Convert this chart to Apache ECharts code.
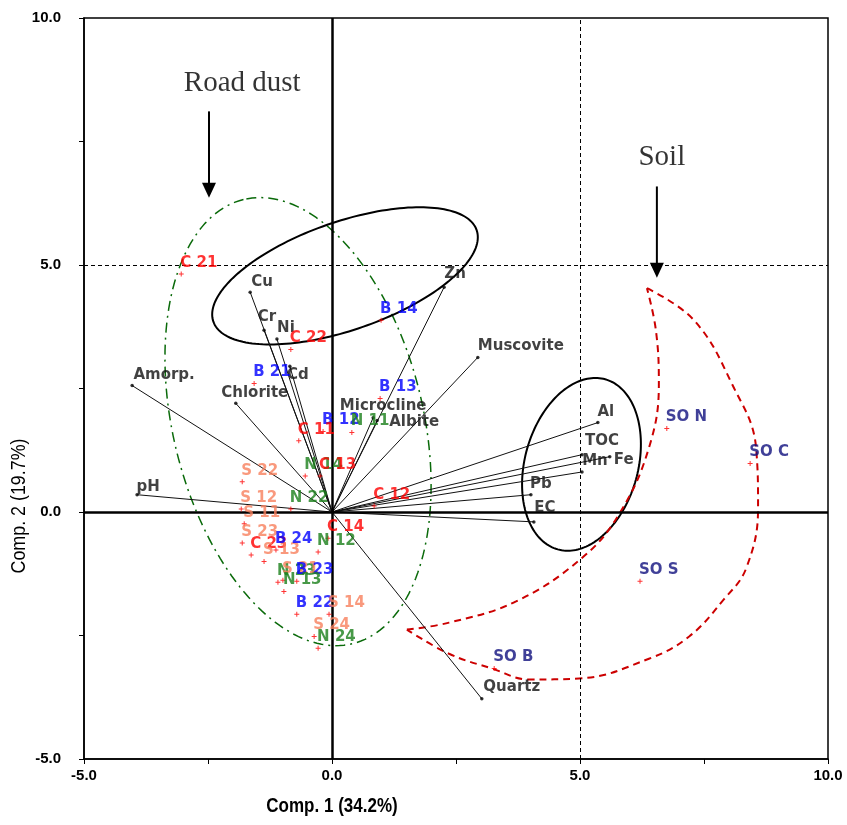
<!DOCTYPE html>
<html><head><meta charset="utf-8">
<script src="https://cdn.jsdelivr.net/npm/echarts@6.0.0/dist/echarts.min.js"></script>
<style>html,body{margin:0;padding:0;background:#fff}#c{width:847px;height:825px}</style>
</head><body><div id="c"></div>
<script>
// ---- axis ----
const xTickLabels = [-5, 0, 5, 10];
const yTickLabels = [-5, 0, 5, 10];
const xAxisTitle = 'Comp. 1 (34.2%)';
const yAxisTitle = 'Comp. 2 (19.7%)';

// ---- variable loadings (vectors) ----
const vecNames = ['Cu','Cr','Ni','Cd','Amorp.','Chlorite','pH','Zn','Muscovite','Microcline','Albite','Al','TOC','Fe','Mn','Pb','EC','Quartz'];
const vecX     = [-1.65,-1.37,-1.11,-0.85,-4.03,-1.94,-3.93,2.26,2.94,0.83,0.91,5.36,5.04,5.60,5.04,4.01,4.07,3.02];
const vecY     = [4.45,3.68,3.50,2.95,2.56,2.20,0.35,4.55,3.13,1.91,1.85,1.81,1.16,1.12,0.81,0.35,-0.20,-3.78];

// ---- sample scores ----
const sampleNames = ['C 21','C 22','B 21','B 14','B 13','B 12','N 11','C 11','N 14','C 13','S 22','S 12','S 11','N 22','C 12','C 14','N 12','S 23','C 23','S 13','B 24','N 23','S 21','B 23','N 13','B 22','S 14','S 24','N 24','SO N','SO C','SO S','SO B'];
const sampleX = [-3.04,-0.83,-1.57,0.99,0.97,-0.18,0.40,-0.67,-0.54,-0.24,-1.81,-1.83,-1.77,-0.83,0.85,-0.08,-0.28,-1.81,-1.63,-1.37,-1.13,-1.09,-0.99,-0.71,-0.97,-0.71,-0.06,-0.36,-0.28,6.75,8.43,6.21,3.27];
const sampleY = [4.82,3.29,2.60,3.88,2.30,1.63,1.61,1.44,0.73,0.73,0.61,0.06,-0.24,0.06,0.12,-0.53,-0.81,-0.63,-0.87,-1.00,-0.77,-1.42,-1.38,-1.40,-1.61,-2.07,-2.07,-2.52,-2.76,1.69,0.98,-1.40,-3.17];

// ---- annotation texts ----
const noteTexts = ['Road dust','Soil'];
const noteX = [-1.81, 6.65];
const noteY = [8.68, 7.17];
const arrowX = [-2.48, 6.55];
const arrowFromY = [8.11, 6.59];
const arrowToY = [6.36, 4.74];

// ---- annotation shapes (data units) ----
const ellCx = [-0.685, 0.262, 5.03];
const ellCy = [1.83, 4.78, 0.965];
const ellA  = [4.61, 2.81, 1.78];
const ellB  = [2.52, 1.09, 1.14];
const ellAngle = [103.8, 19.2, 74.4];
const soilOuterX = [6.35,7.30,8.06,8.55,8.59,8.35,7.90,7.20,6.39,4.98,3.97,3.23,2.36,1.51];
const soilOuterY = [4.53,3.88,2.60,1.30,0.08,-1.14,-1.77,-2.52,-2.97,-3.37,-3.39,-3.17,-2.87,-2.38];
const soilInnerX = [1.51,2.36,3.71,5.04,5.79,6.39,6.59,6.53,6.35];
const soilInnerY = [-2.38,-2.24,-1.81,-0.93,-0.04,1.30,2.60,3.68,4.53];

// ---- styles ----
const groupColor = {C:'#ff0000', B:'#0000ff', N:'#1a801a', S:'#f7805c', SO:'#10107e'};
const ellStyle = [
  {color:'#0a6a0a', width:1.5, dash:[10,5,2,5]},
  {color:'#000', width:2, dash:null},
  {color:'#000', width:2, dash:null}
];
const vecLabelOff = {
  'Cu':[12,-10],'Cr':[3,-13],'Ni':[9,-11],'Cd':[8,9],'Amorp.':[32,-10],'Chlorite':[19,-10],'pH':[11,-8],
  'Zn':[11,-13],'Muscovite':[43,-11],'Microcline':[10,-12],'Albite':[37,1],'Al':[8,-10],'TOC':[20,-14],
  'Fe':[14,3],'Mn':[13,-11],'Pb':[10,-11],'EC':[11,-14],'Quartz':[30,-12]
};
const FONT = 'Liberation Sans, Arial, sans-serif';
const LABEL_FONT = 'DejaVu Sans, Verdana, sans-serif';
const plus = 'path://M2,0h1v2h2v1h-2v2h-1v-2h-2v-1h2z';

const chart = echarts.init(document.getElementById('c'), null, {renderer:'canvas'});

function groupOf(n){ return n.startsWith('SO') ? 'SO' : n.charAt(0); }

const ellData = ellCx.map((c,i)=>[c, ellCy[i], i]);

const option = {
  animation:false,
  backgroundColor:'#fff',
  grid:{left:84,right:19,top:18,bottom:66,show:true,borderColor:'#000',borderWidth:1.5,backgroundColor:'transparent'},
  xAxis:{type:'value',min:-5,max:10,interval:2.5,
    axisLine:{show:true,onZero:false,lineStyle:{color:'#000',width:1.5}},
    axisTick:{show:true,length:5,lineStyle:{color:'#000'}},
    splitLine:{show:false},
    axisLabel:{margin:9,color:'#000',fontFamily:FONT,fontWeight:'bold',fontSize:15,
      formatter:v=> xTickLabels.indexOf(v)>=0 ? v.toFixed(1) : ''}},
  yAxis:{type:'value',min:-5,max:10,interval:2.5,
    axisLine:{show:true,onZero:false,lineStyle:{color:'#000',width:1.5}},
    axisTick:{show:true,length:5,lineStyle:{color:'#000'}},
    splitLine:{show:false},
    axisLabel:{margin:23,color:'#000',fontFamily:FONT,fontWeight:'bold',fontSize:15,
      formatter:v=> yTickLabels.indexOf(v)>=0 ? v.toFixed(1) : ''}},
  series:[
    { // reference lines
      type:'line', data:[], silent:true,
      markLine:{silent:true,symbol:'none',label:{show:false},animation:false,
        data:[
          {xAxis:5,lineStyle:{color:'#000',width:1,type:[4,3]}},
          {yAxis:5,lineStyle:{color:'#000',width:1,type:[4,3]}},
          {xAxis:0,lineStyle:{color:'#000',width:2.5,type:'solid'}},
          {yAxis:0,lineStyle:{color:'#000',width:2.5,type:'solid'}}
        ]}
    },
    { // ellipses
      type:'custom', silent:true, clip:false, data:ellData, z:3,
      renderItem:function(params, api){
        const i = api.value(2);
        const c = api.coord([api.value(0), api.value(1)]);
        const s = api.size([1,1])[0];
        const th = ellAngle[i]*Math.PI/180;
        const a = ellA[i], b = ellB[i];
        const pts = [];
        for(let k=0;k<=180;k++){
          const t = k/180*2*Math.PI;
          const dx = a*Math.cos(t)*Math.cos(th) - b*Math.sin(t)*Math.sin(th);
          const dy = a*Math.cos(t)*Math.sin(th) + b*Math.sin(t)*Math.cos(th);
          pts.push([c[0]+dx*s, c[1]-dy*s]);
        }
        const st = ellStyle[i];
        return {type:'polyline', shape:{points:pts},
          style:{stroke:st.color, lineWidth:st.width, lineDash:st.dash, fill:null}};
      }
    },
    { type:'line', silent:true, smooth:0.4, symbol:'none', z:3,
      data: soilOuterX.map((x,i)=>[x, soilOuterY[i]]),
      lineStyle:{color:'#cc0000', width:2, type:[7,5]} },
    { type:'line', silent:true, smooth:0.4, symbol:'none', z:3,
      data: soilInnerX.map((x,i)=>[x, soilInnerY[i]]),
      lineStyle:{color:'#cc0000', width:2, type:[7,5]} },
    { // vector lines
      type:'custom', silent:true, z:4,
      data: vecX.map((x,i)=>[x, vecY[i]]),
      renderItem:function(params, api){
        const o = api.coord([0,0]);
        const p = api.coord([api.value(0), api.value(1)]);
        return {type:'line', shape:{x1:o[0],y1:o[1],x2:p[0],y2:p[1]},
          style:{stroke:'#111', lineWidth:1}};
      }
    },
    { // vector endpoints with labels
      type:'scatter', silent:true, z:5, symbol:'circle', symbolSize:3.5,
      itemStyle:{color:'#000'},
      data: vecX.map((x,i)=>({value:[x, vecY[i]], name:vecNames[i],
        label:{offset:vecLabelOff[vecNames[i]]}})),
      label:{show:true, position:'inside', align:'center', verticalAlign:'middle',
        formatter:p=>p.name, color:'#111', fontFamily:LABEL_FONT, fontWeight:'bold', fontSize:15}
    },
    { // samples
      type:'scatter', silent:true, z:6, symbol:plus, symbolSize:5,
      data: sampleX.map((x,i)=>{
        const col = groupColor[groupOf(sampleNames[i])];
        return {value:[x, sampleY[i]], name:sampleNames[i],
          itemStyle:{color:'#ff0000'},
          label:{color:col}};
      }),
      label:{show:true, position:'inside', align:'left', verticalAlign:'middle', offset:[-1,-11],
        formatter:p=>p.name, fontFamily:LABEL_FONT, fontWeight:'bold', fontSize:15}
    },
    { // arrows
      type:'custom', silent:true, z:6, clip:false,
      data: arrowX.map((x,i)=>[x, arrowFromY[i], arrowToY[i]]),
      renderItem:function(params, api){
        const p1 = api.coord([api.value(0), api.value(1)]);
        const p2 = api.coord([api.value(0), api.value(2)]);
        return {type:'group', children:[
          {type:'line', shape:{x1:p1[0],y1:p1[1],x2:p2[0],y2:p2[1]-12}, style:{stroke:'#000',lineWidth:2}},
          {type:'polygon', shape:{points:[[p2[0]-7,p2[1]-15],[p2[0]+7,p2[1]-15],[p2[0],p2[1]]]}, style:{fill:'#000'}}
        ]};
      }
    },
    { // annotation texts
      type:'scatter', silent:true, z:6, symbolSize:0,
      data: noteX.map((x,i)=>({value:[x, noteY[i]], name:noteTexts[i]})),
      label:{show:true, position:'inside', align:'center', verticalAlign:'middle',
        formatter:p=>p.name, color:'#000', fontFamily:'Liberation Serif, Times New Roman, serif', fontSize:29}
    }
  ],
  graphic:[]
};
chart.setOption(option);

// axis titles placed at the value-0 positions as in the reference
const px0 = chart.convertToPixel({xAxisIndex:0}, 0);
const py0 = chart.convertToPixel({yAxisIndex:0}, 0);
chart.setOption({graphic:[
  {type:'text', x:px0, y:806, scaleX:0.85, style:{text:xAxisTitle, fill:'#000', font:'bold 20px "Liberation Sans", Arial', textAlign:'center', textVerticalAlign:'middle'}},
  {type:'text', x:19, y:py0-6, rotation:Math.PI/2, scaleX:0.85, style:{text:yAxisTitle, fill:'#000', font:'21px "Liberation Sans", Arial', textAlign:'center', textVerticalAlign:'middle'}}
]});
</script>
</body></html>
